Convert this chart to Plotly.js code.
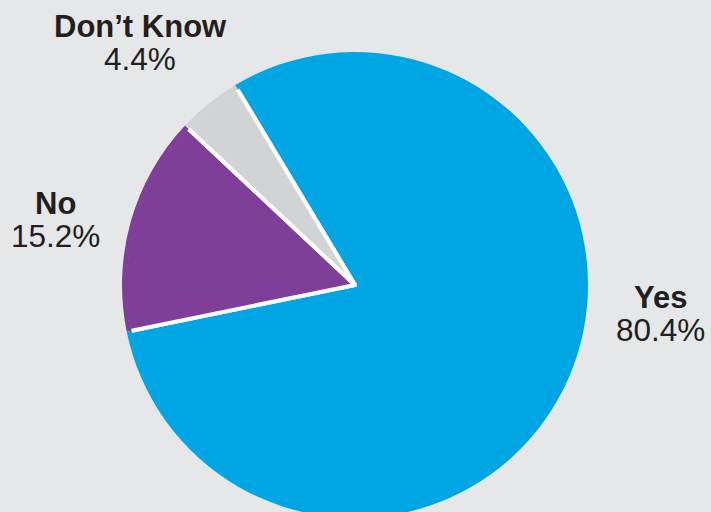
<!DOCTYPE html>
<html>
<head>
<meta charset="utf-8">
<script src="https://cdn.plot.ly/plotly-3.0.1.min.js"></script>
<style>
html,body{margin:0;padding:0;background:#e6e7e8;overflow:hidden;width:711px;height:512px;}
#chart{width:711px;height:530px;}
</style>
</head>
<body>
<div id="chart"></div>
<script>
const labels = ["Yes", "No", "Don\u2019t Know"];
const values = [80.4, 15.2, 4.4];
const colors = ["#00a6e3", "#7f3f98", "#d1d3d4"];

// label positions in pixels (name center, percent center)
const labelPos = [
  {x: 660, yName: 297, yPct: 330},
  {x: 55,  yName: 203, yPct: 236},
  {x: 140, yName: 27,  yPct: 59}
];
const H = 530, W = 711;
const textColor = "#231f20";
const font = "Liberation Sans, Arial, sans-serif";

const annotations = [];
labels.forEach((lab, i) => {
  const p = labelPos[i];
  annotations.push({
    text: "<b>" + lab + "</b>", xref: "paper", yref: "paper",
    x: p.x / W, y: (H - p.yName) / H, xanchor: "center", yanchor: "middle",
    showarrow: false, font: {family: font, size: 31, color: textColor}
  });
  annotations.push({
    text: values[i].toFixed(1) + "%", xref: "paper", yref: "paper",
    x: p.x / W, y: (H - p.yPct) / H, xanchor: "center", yanchor: "middle",
    showarrow: false, font: {family: font, size: 31.5, color: textColor}
  });
});

// pie geometry (pixels)
const cx = 355, cy = 285, R = 230.5, pad = 2.5;

const base = {
  type: "pie",
  labels: labels,
  values: values,
  sort: false,
  direction: "clockwise",
  rotation: -31,
  textinfo: "none",
  hoverinfo: "skip"
};

const data = [
  Object.assign({}, base, {
    marker: {colors: colors, line: {color: "#ffffff", width: 4}},
    domain: {x: [(cx - R) / W, (cx + R) / W], y: [(H - cy - R) / H, (H - cy + R) / H]}
  }),
  // outer rim overlay: hides the white stroke along the circumference
  Object.assign({}, base, {
    hole: (R - pad) / (R + pad),
    marker: {colors: colors, line: {width: 0}},
    domain: {x: [(cx - R - pad) / W, (cx + R + pad) / W], y: [(H - cy - R - pad) / H, (H - cy + R + pad) / H]}
  })
];

const layout = {
  width: W, height: H,
  margin: {l: 0, r: 0, t: 0, b: 0},
  paper_bgcolor: "#e6e7e8",
  plot_bgcolor: "#e6e7e8",
  showlegend: false,
  annotations: annotations
};

Plotly.newPlot("chart", data, layout, {displayModeBar: false, staticPlot: true});
</script>
</body>
</html>
